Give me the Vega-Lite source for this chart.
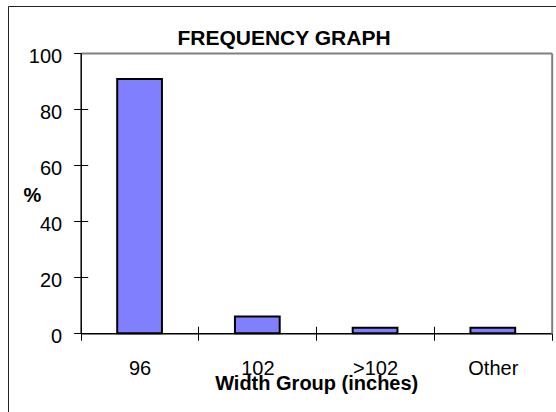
{
  "$schema": "https://vega.github.io/schema/vega-lite/v6.json",
  "width": 548,
  "height": 406,
  "autosize": {"type": "none"},
  "padding": {"left": 8, "top": 6, "right": 0, "bottom": 0},
  "background": "white",
  "view": {"stroke": "#222222", "strokeWidth": 1, "strokeDash": [548, 954, 406]},
  "title": {
    "text": "FREQUENCY GRAPH",
    "anchor": "middle",
    "frame": "group",
    "baseline": "alphabetic",
    "offset": 0,
    "dx": 2,
    "dy": 60,
    "fontSize": 21,
    "fontWeight": "bold",
    "color": "black"
  },
  "data": {
    "values": [
      {"group": "96", "percent": 90.7},
      {"group": "102", "percent": 6.0},
      {"group": ">102", "percent": 2.0},
      {"group": "Other", "percent": 2.0}
    ]
  },
  "layer": [
    {
      "mark": {"type": "bar", "opacity": 0},
      "encoding": {
        "x": {
          "field": "group",
          "type": "nominal",
          "sort": null,
          "scale": {"range": [72.7, 543.7], "paddingInner": 0, "paddingOuter": 0},
          "axis": {
            "orient": "top",
            "offset": -47,
            "domainColor": "#808080",
            "domainWidth": 2,
            "ticks": false,
            "labels": false,
            "title": null,
            "tickBand": "extent",
            "grid": true,
            "gridColor": "black",
            "gridWidth": 1,
            "gridDash": [7, 2000],
            "gridOpacity": 1
          }
        },
        "y": {
          "field": "percent",
          "type": "quantitative",
          "scale": {"domain": [0, 100], "range": [327.3, 47]},
          "axis": {
            "orient": "right",
            "offset": -4.3,
            "tickCount": 5,
            "domainColor": "#808080",
            "domainWidth": 2,
            "ticks": false,
            "labels": false,
            "grid": true,
            "gridColor": "black",
            "gridWidth": 1,
            "gridDash": [0, 395.6, 7, 3000],
            "gridOpacity": 1,
            "title": null
          }
        }
      }
    },
    {
      "mark": {
        "type": "bar",
        "fill": "#8080FF",
        "stroke": "black",
        "strokeWidth": 2,
        "width": {"band": 0.38}
      },
      "encoding": {
        "x": {
          "field": "group",
          "type": "nominal",
          "sort": null,
          "axis": {
            "orient": "bottom",
            "offset": -78.7,
            "domainColor": "black",
            "domainWidth": 1.5,
            "tickBand": "extent",
            "tickColor": "black",
            "tickSize": 7,
            "tickWidth": 1,
            "labelAngle": 0,
            "labelFontSize": 20,
            "labelColor": "black",
            "labelPadding": 18,
            "grid": false,
            "title": "Width Group (inches)",
            "titleFontSize": 20,
            "titleFontWeight": "bold",
            "titleColor": "black",
            "titleBaseline": "alphabetic",
            "titleY": 56
          }
        },
        "y": {
          "field": "percent",
          "type": "quantitative",
          "axis": {
            "orient": "left",
            "offset": -72.7,
            "tickCount": 5,
            "domainColor": "black",
            "domainWidth": 1.5,
            "tickColor": "black",
            "tickSize": 7,
            "tickWidth": 1,
            "labelFontSize": 20,
            "labelColor": "black",
            "labelPadding": 12,
            "labelOffset": 3.5,
            "grid": false,
            "title": "%",
            "titleAngle": 0,
            "titleAlign": "center",
            "titleBaseline": "middle",
            "titleFontSize": 20,
            "titleFontWeight": "bold",
            "titleColor": "black",
            "titleX": -48.7,
            "titleY": 189
          }
        }
      }
    }
  ],
  "resolve": {"axis": {"x": "independent", "y": "independent"}},
  "config": {
    "font": "Liberation Sans"
  }
}
